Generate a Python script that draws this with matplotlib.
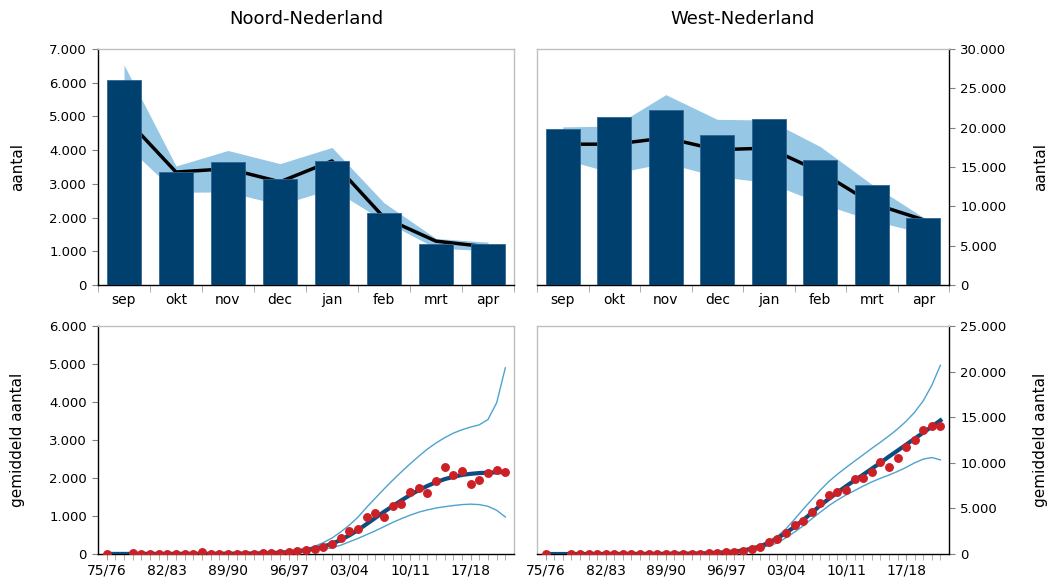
import numpy as np
import matplotlib
matplotlib.use('Agg')
from matplotlib import pyplot as plt
from matplotlib.ticker import FuncFormatter, MultipleLocator

plt.rcParams['font.family'] = ['DejaVu Sans']

# ---- top: monthly counts ----
months = ['sep', 'okt', 'nov', 'dec', 'jan', 'feb', 'mrt', 'apr']

bars_n = [6080, 3340, 3660, 3150, 3690, 2150, 1210, 1230]
mean_n = [5000, 3350, 3450, 3060, 3680, 2000, 1300, 1130]
hi_n = [6530, 3530, 3990, 3600, 4080, 2440, 1380, 1270]
lo_n = [4200, 2750, 2760, 2380, 2850, 1900, 1090, 1020]

bars_w = [19800, 21400, 22200, 19070, 21100, 15850, 12750, 8560]
mean_w = [17900, 17900, 18700, 17200, 17400, 14400, 10400, 8300]
hi_w = [20100, 20200, 24200, 21060, 20970, 17600, 12800, 8600]
lo_w = [16000, 14200, 15500, 13800, 13000, 10400, 8200, 6600]

# ---- bottom: seasonal averages 75/76 .. 21/22 ----
seasons = ['%02d/%02d' % (y % 100, (y + 1) % 100) for y in range(1975, 2022)]
nan = np.nan

dots_n = [0, nan, nan, 30, 5, 5, 5, 5, 5, 5, 5, 55, 5, 5, 5, 5, 5, 10, 15, 25,
          30, 48, 69, 95, 139, 192, 262, 411, 595, 656, 962, 1085, 971, 1269,
          1322, 1619, 1733, 1611, 1918, 2285, 2092, 2197, 1847, 1960, 2128,
          2215, 2163]
trend_n = [2, 2, 2, 2, 3, 3, 3, 3, 4, 4, 5, 5, 6, 7, 8, 9, 11, 14, 18, 25,
           35, 50, 72, 100, 140, 195, 270, 370, 490, 630, 790, 950, 1110, 1260,
           1410, 1550, 1680, 1790, 1890, 1970, 2030, 2080, 2110, 2130, 2140,
           2150, 2160]
upper_n = [5, 5, 5, 5, 5, 5, 5, 5, 5, 5, 5, 8, 9, 10, 12, 14, 17, 21, 27, 35,
           45, 65, 95, 140, 200, 300, 420, 580, 760, 970, 1230, 1470, 1710, 1940,
           2160, 2370, 2570, 2760, 2920, 3060, 3180, 3270, 3340, 3400, 3540,
           3980, 4900]
lower_n = [0, 0, 0, 0, 0, 0, 0, 0, 0, 0, 0, 2, 3, 4, 5, 6, 8, 10, 14, 20,
           27, 38, 52, 72, 98, 128, 165, 230, 320, 410, 510, 610, 720, 830,
           930, 1020, 1100, 1160, 1210, 1245, 1275, 1300, 1312, 1300, 1255,
           1150, 975]

dots_w = [0, nan, nan, 10, 10, 10, 15, 10, 15, 15, 20, 20, 20, 25, 30, 30, 35,
          40, 50, 60, 80, 190, 230, 367, 587, 734, 1322, 1690, 2276, 3157, 3630,
          4626, 5600, 6498, 6755, 6990, 8240, 8310, 8994, 10070, 9508, 10572,
          11747, 12500, 13640, 14060, 14080]
trend_w = [0, 0, 0, 0, 2, 3, 4, 5, 6, 8, 10, 12, 15, 18, 22, 28, 35, 45, 60, 90,
           130, 190, 270, 390, 580, 840, 1220, 1720, 2320, 2980, 3720, 4500,
           5330, 6050, 6750, 7430, 8070, 8700, 9350, 10000, 10680, 11330, 11990,
           12650, 13310, 13970, 14650]
upper_w = [5, 5, 5, 5, 5, 5, 5, 5, 5, 5, 5, 15, 18, 22, 27, 33, 42, 55, 75, 110,
           160, 230, 330, 470, 680, 980, 1400, 1950, 2750, 3800, 4900, 5950, 7000,
           7950, 8750, 9480, 10180, 10880, 11580, 12250, 12950, 13700, 14550,
           15550, 16800, 18500, 20700]
lower_w = [0, 0, 0, 0, 0, 0, 0, 0, 0, 0, 0, 8, 10, 13, 16, 20, 26, 34, 48, 70,
           100, 150, 215, 310, 450, 650, 900, 1210, 1780, 2400, 3080, 3850, 4580,
           5300, 5920, 6470, 6950, 7450, 7900, 8300, 8650, 9050, 9500, 10000,
           10400, 10580, 10320]

NAVY = '#00406E'
BAND = '#96C8E6'
RED = '#CC2027'
TREND = '#0D4C7E'
THIN = '#4DA3CF'
GRAY = '#BFBFBF'

thousands = FuncFormatter(lambda v, p: '{:,}'.format(int(v)).replace(',', '.'))

fig = plt.figure(figsize=(10.55, 5.8), dpi=100)
W, H = 1055.0, 580.0


def add_ax(x0, x1, y0, y1):
    return fig.add_axes([x0 / W, 1 - y1 / H, (x1 - x0) / W, (y1 - y0) / H])


ax_tl = add_ax(98, 514, 49, 285)
ax_tr = add_ax(537, 949, 49, 285)
ax_bl = add_ax(98, 514, 326, 554)
ax_br = add_ax(537, 949, 326, 554)


def style(ax, right):
    for s in ax.spines.values():
        s.set_color(GRAY)
        s.set_linewidth(1)
    ax.spines['bottom'].set_color('black')
    if right:
        ax.spines['right'].set_color('black')
        ax.yaxis.tick_right()
        ax.yaxis.set_label_position('right')
    else:
        ax.spines['left'].set_color('black')
    ax.yaxis.set_major_formatter(thousands)
    ax.tick_params(axis='y', which='major', length=4, color='#808080',
                   labelsize=9.5, pad=4)
    ax.tick_params(axis='x', which='both', color='#A0A0A0', labelsize=10)


def monthly(ax, bars, mean, hi, lo, ymax, step, right):
    x = np.arange(len(months))
    ax.fill_between(x, lo, hi, color=BAND, lw=0, zorder=1)
    ax.plot(x, mean, color='black', lw=2.5, zorder=2)
    ax.bar(x, bars, width=0.66, color=NAVY, edgecolor='#2F6590', lw=0.6, zorder=3)
    ax.set_xlim(-0.5, len(months) - 0.5)
    ax.set_ylim(0, ymax)
    ax.yaxis.set_major_locator(MultipleLocator(step))
    ax.set_xticks(x)
    ax.set_xticklabels(months)
    ax.set_xticks(np.arange(-0.5, len(months)), minor=True)
    ax.tick_params(axis='x', which='major', length=0, pad=6)
    ax.tick_params(axis='x', which='minor', length=5)
    style(ax, right)
    ax.set_ylabel('aantal', fontsize=11)
    ax.yaxis.set_label_coords(1.204 if right else -0.175, 0.5)


def seasonal(ax, dots, trend, upper, lower, ymax, step, right):
    x = np.arange(len(seasons))
    ax.plot(x, upper, color=THIN, lw=1, zorder=2)
    ax.plot(x, lower, color=THIN, lw=1, zorder=2)
    ax.plot(x, trend, color=TREND, lw=3, zorder=3)
    ax.plot(x, dots, 'o', color=RED, ms=5.4, mec=RED, zorder=4)
    ax.set_xlim(-1, len(seasons))
    ax.set_ylim(0, ymax)
    ax.yaxis.set_major_locator(MultipleLocator(step))
    ax.set_xticks(x[::7])
    ax.set_xticklabels(seasons[::7])
    ax.set_xticks(x, minor=True)
    ax.tick_params(axis='x', which='both', length=4, pad=3)
    style(ax, right)
    ax.set_ylabel('gemiddeld aantal', fontsize=11)
    ax.yaxis.set_label_coords(1.204 if right else -0.175, 0.5)


monthly(ax_tl, bars_n, mean_n, hi_n, lo_n, 7000, 1000, False)
monthly(ax_tr, bars_w, mean_w, hi_w, lo_w, 30000, 5000, True)
seasonal(ax_bl, dots_n, trend_n, upper_n, lower_n, 6000, 1000, False)
seasonal(ax_br, dots_w, trend_w, upper_w, lower_w, 25000, 5000, True)

fig.text(306 / W, 1 - 19 / H, 'Noord-Nederland', ha='center', va='center', fontsize=13)
fig.text(743 / W, 1 - 19 / H, 'West-Nederland', ha='center', va='center', fontsize=13)

fig.savefig('out.png', dpi=100)
